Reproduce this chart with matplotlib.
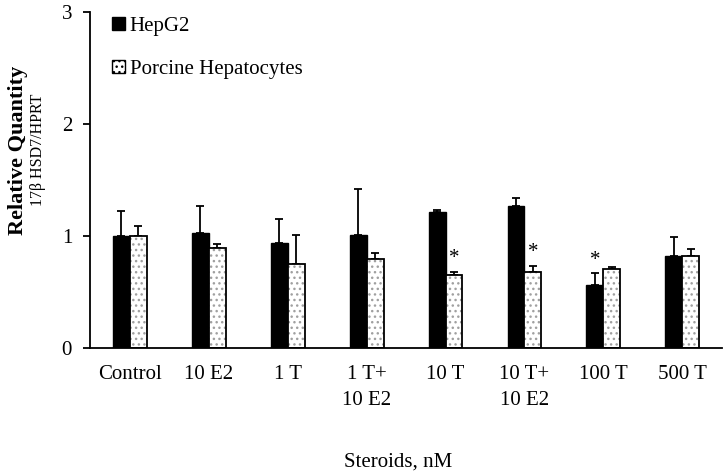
import matplotlib
matplotlib.use("Agg")
import matplotlib.pyplot as plt
import numpy as np

plt.rcParams['font.family'] = ['Liberation Serif', 'DejaVu Serif']

categories = ["Control", "10 E2", "1 T", "1 T+\n10 E2", "10 T", "10 T+\n10 E2", "100 T", "500 T"]
hepg2 = [1.00, 1.03, 0.94, 1.01, 1.21, 1.27, 0.56, 0.82]
hepg2_err = [0.22, 0.24, 0.21, 0.41, 0.02, 0.07, 0.11, 0.17]
porcine = [1.00, 0.89, 0.75, 0.79, 0.655, 0.675, 0.705, 0.825]
porcine_err = [0.09, 0.04, 0.26, 0.06, 0.025, 0.06, 0.02, 0.06]
star_hepg2 = [False, False, False, False, False, False, True, False]
star_porcine = [False, False, False, False, True, True, False, False]

fig = plt.figure(figsize=(7.27, 4.76), dpi=100)
ax = fig.add_axes([0.124, 0.269, 0.869, 0.706])

x = np.arange(len(categories))
w = 0.215
ax.bar(x - w/2, hepg2, w, color='black', edgecolor='black', linewidth=1, zorder=2, label='HepG2')
ax.errorbar(x - w/2, hepg2, yerr=[np.zeros(len(hepg2)), hepg2_err], fmt='none',
            ecolor='black', elinewidth=1.3, capsize=3, capthick=1.3, zorder=1)
ax.bar(x + w/2, porcine, w, color='white', edgecolor='#a0a0a0', hatch='...', linewidth=0, zorder=2)
ax.bar(x + w/2, porcine, w, color='none', edgecolor='black', linewidth=1.3, zorder=3)
ax.errorbar(x + w/2, porcine, yerr=[np.zeros(len(porcine)), porcine_err], fmt='none',
            ecolor='black', elinewidth=1.3, capsize=3, capthick=1.3, zorder=1)

for i in range(len(categories)):
    if star_hepg2[i]:
        ax.text(x[i] - w/2, hepg2[i] + hepg2_err[i] + 0.03, '*', ha='center', va='bottom', fontsize=15)
    if star_porcine[i]:
        ax.text(x[i] + w/2, porcine[i] + porcine_err[i] + 0.03, '*', ha='center', va='bottom', fontsize=15)

ax.set_xlim(-0.5, len(categories) - 0.5)
ax.set_ylim(0, 3)
ax.set_yticks([0, 1, 2, 3])
ax.set_xticks(x)
ax.set_xticklabels(categories, fontsize=15, linespacing=1.55)
ax.tick_params(axis='x', length=0, pad=12)
ax.tick_params(axis='y', labelsize=15, length=5, width=1.3, direction='out', pad=8)
for s in ['top', 'right']:
    ax.spines[s].set_visible(False)
ax.spines['left'].set_linewidth(1.3)
ax.spines['bottom'].set_linewidth(1.3)

# legend
from matplotlib.patches import Patch
h1 = Patch(facecolor='black', edgecolor='black')
h2 = Patch(facecolor='white', edgecolor='black', hatch='...', linewidth=1)
leg = ax.legend([h1, h2], ['HepG2', 'Porcine Hepatocytes'], loc='upper left',
                bbox_to_anchor=(0.005, 1.04), frameon=False, fontsize=15,
                handlelength=0.6, handleheight=0.6, handletextpad=0.25, labelspacing=1.15)

fig.text(0.025, 0.685, 'Relative Quantity', rotation=90, ha='center', va='center',
         fontsize=16, fontweight='bold')
fig.text(0.052, 0.685, '17β HSD7/HPRT', rotation=90, ha='center', va='center', fontsize=11.5)
fig.text(0.548, 0.03, 'Steroids, nM', ha='center', va='center', fontsize=15)

fig.savefig('out.png', dpi=100)
